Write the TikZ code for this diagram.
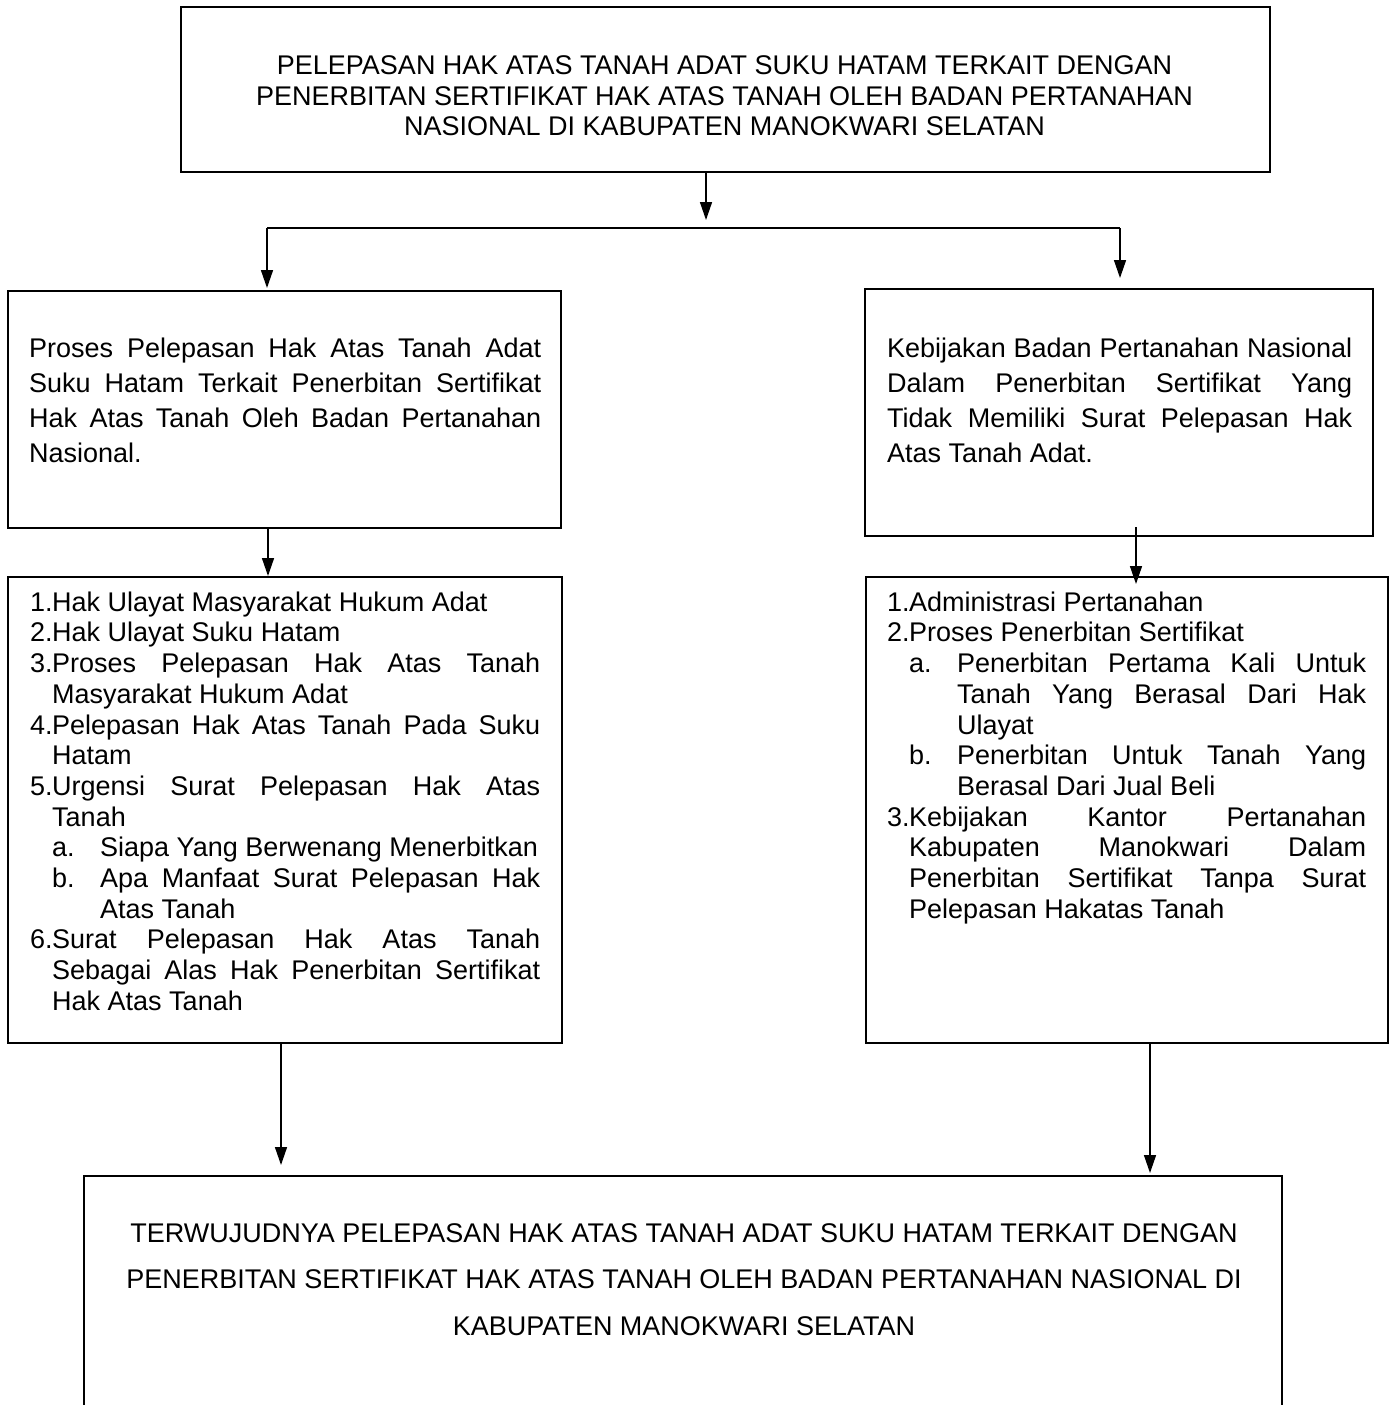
\documentclass[tikz,border=0pt]{standalone}
\usepackage{fontspec}
\setmainfont{Liberation Sans}
\usetikzlibrary{arrows.meta}
\newcommand\JL[2]{\makebox[#1][s]{#2}}
\newcommand\NUM[1]{\makebox[22pt][l]{#1}}
\newcommand\SUB[1]{\makebox[48pt][l]{#1}}
\newcommand\FS{\rule{0pt}{22pt}}
\begin{document}
\begin{tikzpicture}[x=1pt,y=-1pt,
  box/.style={draw,line width=1.6pt,inner sep=0pt,anchor=north west},
  txt/.style={inner sep=0pt,align=left,anchor=north west},
  arr/.style={line width=1.5pt,-{Triangle[length=18pt,width=12pt]}},
  ln/.style={line width=1.5pt}]
\useasboundingbox (0,0) rectangle (1394,1405);
\fill[white] (0,0) rectangle (1394,1405);
% boxes
\node[box,minimum width=1089pt,minimum height=165pt] (top) at (180,6) {};
\node[box,minimum width=553pt,minimum height=237pt] (L1) at (7,290) {};
\node[box,minimum width=508pt,minimum height=247pt] (R1) at (864,288) {};
\node[box,minimum width=554pt,minimum height=466pt] (L2) at (7,576) {};
\node[box,minimum width=522pt,minimum height=466pt] (R2) at (865,576) {};
\node[box,minimum width=1198pt,minimum height=260pt] (bot) at (83,1175) {};
% texts
\node[inner sep=0pt,align=center,anchor=north,font={\fontsize{27}{30.8}\selectfont}] (toptxt) at (724.5,52)
 {\FS PELEPASAN HAK ATAS TANAH ADAT SUKU HATAM TERKAIT DENGAN\\
  PENERBITAN SERTIFIKAT HAK ATAS TANAH OLEH BADAN PERTANAHAN\\
  NASIONAL DI KABUPATEN MANOKWARI SELATAN};
\node[txt,font={\fontsize{27}{35}\selectfont}] (L1txt) at (29,335)
 {\FS\JL{512pt}{Proses Pelepasan Hak Atas Tanah Adat}\\
  \JL{512pt}{Suku Hatam Terkait Penerbitan Sertifikat}\\
  \JL{512pt}{Hak Atas Tanah Oleh Badan Pertanahan}\\
  Nasional.};
\node[txt,font={\fontsize{27}{35}\selectfont}] (R1txt) at (887,335)
 {\FS\JL{465pt}{Kebijakan Badan Pertanahan Nasional}\\
  \JL{465pt}{Dalam Penerbitan Sertifikat Yang}\\
  \JL{465pt}{Tidak Memiliki Surat Pelepasan Hak}\\
  Atas Tanah Adat.};
\node[txt,font={\fontsize{27}{30.7}\selectfont}] (L2txt) at (30,589)
 {\FS\NUM{1.}Hak Ulayat Masyarakat Hukum Adat\\
  \NUM{2.}Hak Ulayat Suku Hatam\\
  \NUM{3.}\JL{488pt}{Proses Pelepasan Hak Atas Tanah}\\
  \hspace*{22pt}Masyarakat Hukum Adat\\
  \NUM{4.}\JL{488pt}{Pelepasan Hak Atas Tanah Pada Suku}\\
  \hspace*{22pt}Hatam\\
  \NUM{5.}\JL{488pt}{Urgensi Surat Pelepasan Hak Atas}\\
  \hspace*{22pt}Tanah\\
  \hspace*{22pt}\SUB{a.}Siapa Yang Berwenang Menerbitkan\\
  \hspace*{22pt}\SUB{b.}\JL{440pt}{Apa Manfaat Surat Pelepasan Hak}\\
  \hspace*{70pt}Atas Tanah\\
  \NUM{6.}\JL{488pt}{Surat Pelepasan Hak Atas Tanah}\\
  \hspace*{22pt}\JL{488pt}{Sebagai Alas Hak Penerbitan Sertifikat}\\
  \hspace*{22pt}Hak Atas Tanah};
\node[txt,font={\fontsize{27}{30.7}\selectfont}] (R2txt) at (887,589)
 {\FS\NUM{1.}Administrasi Pertanahan\\
  \NUM{2.}Proses Penerbitan Sertifikat\\
  \hspace*{22pt}\SUB{a.}\JL{409pt}{Penerbitan Pertama Kali Untuk}\\
  \hspace*{70pt}\JL{409pt}{Tanah Yang Berasal Dari Hak}\\
  \hspace*{70pt}Ulayat\\
  \hspace*{22pt}\SUB{b.}\JL{409pt}{Penerbitan Untuk Tanah Yang}\\
  \hspace*{70pt}Berasal Dari Jual Beli\\
  \NUM{3.}\JL{457pt}{Kebijakan Kantor Pertanahan}\\
  \hspace*{22pt}\JL{457pt}{Kabupaten Manokwari Dalam}\\
  \hspace*{22pt}\JL{457pt}{Penerbitan Sertifikat Tanpa Surat}\\
  \hspace*{22pt}Pelepasan Hakatas Tanah};
\node[inner sep=0pt,align=center,anchor=north,font={\fontsize{27}{46.5}\selectfont}] (bottxt) at (684,1220)
 {\FS TERWUJUDNYA PELEPASAN HAK ATAS TANAH ADAT SUKU HATAM TERKAIT DENGAN\\
  PENERBITAN SERTIFIKAT HAK ATAS TANAH OLEH BADAN PERTANAHAN NASIONAL DI\\
  KABUPATEN MANOKWARI SELATAN};
% connectors
\coordinate (j0) at (706,220);
\coordinate (jl) at (267,228);
\coordinate (jr) at (1120,228);
\coordinate (a1) at (268,527);
\coordinate (r1s) at (1136,527);
\coordinate (r2e) at (1136,584);
\coordinate (b1) at (281,1042);
\coordinate (b2) at (1150,1042);
\draw[arr] (top.south -| j0) -- (j0);
\draw[ln] (jl) -- (jr);
\draw[arr,shorten >=2pt] (jl) -- (jl |- L1.north);
\draw[arr,shorten >=10pt] (jr) -- (jr |- R1.north);
\draw[arr] (a1) -- (a1 |- L2.north);
\draw[arr] (r1s) -- (r2e);
\draw[arr,shorten >=10pt] (b1) -- (b1 |- bot.north);
\draw[arr,shorten >=2pt] (b2) -- (b2 |- bot.north);
\end{tikzpicture}
\end{document}
